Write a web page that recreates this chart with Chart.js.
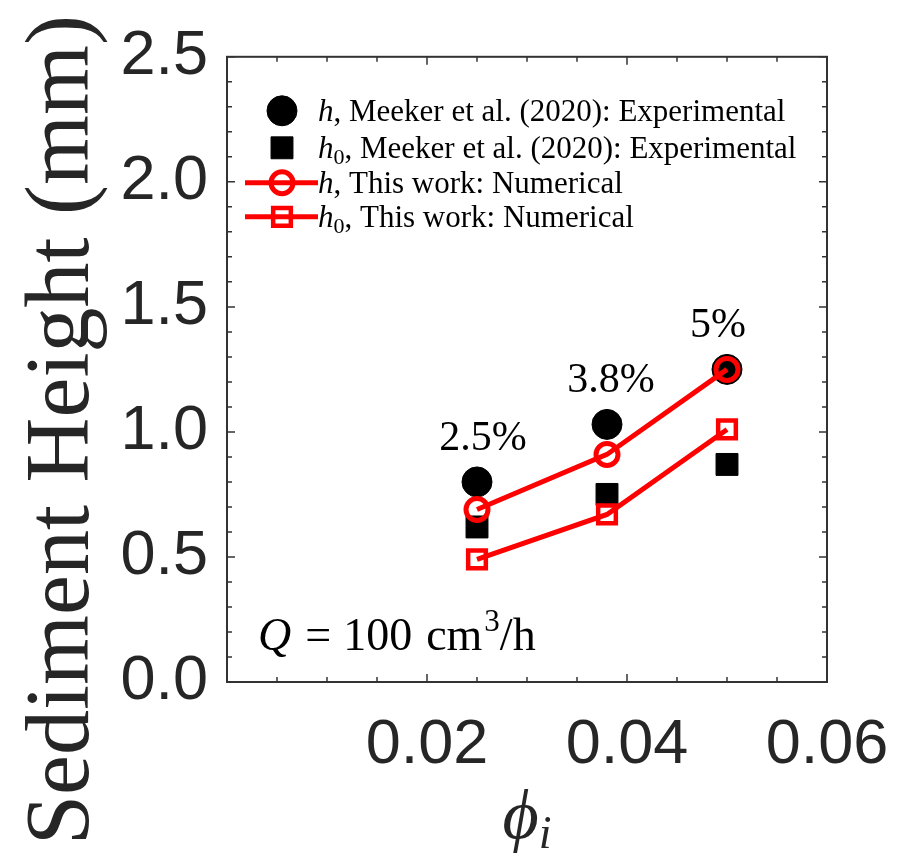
<!DOCTYPE html>
<html><head><meta charset="utf-8">
<script src="https://cdn.jsdelivr.net/npm/chart.js@4/dist/chart.umd.min.js"></script>
<style>html,body{margin:0;padding:0;background:#fff;}#wrap{width:916px;height:862px;position:relative;}</style>
</head><body><div id="wrap"><canvas id="c" width="916" height="862"></canvas></div>
<script>
// ---- data ----
const phi = [0.025, 0.038, 0.05];
const hExp = [0.80, 1.03, 1.25];
const h0Exp = [0.62, 0.75, 0.87];
const hNum = [0.69, 0.91, 1.25];
const h0Num = [0.49, 0.67, 1.01];
const pctLabels = ['2.5%', '3.8%', '5%'];
const xTicks = [0.02, 0.04, 0.06];
const yTicks = [0.0, 0.5, 1.0, 1.5, 2.0, 2.5];
const legendSym = ['h', 'h', 'h', 'h'];
const legendSub = ['', '0', '', '0'];
const legendText = [', Meeker et al. (2020): Experimental', ', Meeker et al. (2020): Experimental', ', This work: Numerical', ', This work: Numerical'];
const yTitle = 'Sediment Height (mm)';
const xTitleSym = 'ϕ';
const xTitleSub = 'i';
const flowParts = ['Q', '=', '100', 'cm', '3', '/h'];

const pts = ys => phi.map((x, i) => ({x: x, y: ys[i]}));
const SERIF = '"Liberation Serif", "Times New Roman", serif';
const SANS = '"Liberation Sans", Arial, Helvetica, sans-serif';
const AX = '#333333';

const datasets = [
  {label: 'hExp', data: pts(hExp), showLine: false, pointStyle: 'circle', pointRadius: 15, pointHoverRadius: 15,
   pointBackgroundColor: '#000', pointBorderColor: '#000', pointBorderWidth: 1, order: 2},
  {label: 'h0Exp', data: pts(h0Exp), showLine: false, pointStyle: 'rect', pointRadius: 15.5, pointHoverRadius: 15.5,
   pointBackgroundColor: '#000', pointBorderColor: '#000', pointBorderWidth: 1, order: 2},
  {label: 'hNum', data: pts(hNum), showLine: true, borderColor: '#ff0000', borderWidth: 5, pointStyle: 'circle',
   pointRadius: 11, pointHoverRadius: 11, pointBackgroundColor: 'rgba(0,0,0,0)', pointBorderColor: '#ff0000', pointBorderWidth: 5, order: 1},
  {label: 'h0Num', data: pts(h0Num), showLine: true, borderColor: '#ff0000', borderWidth: 5, pointStyle: 'rect',
   pointRadius: 12.5, pointHoverRadius: 12.5, pointBackgroundColor: 'rgba(0,0,0,0)', pointBorderColor: '#ff0000', pointBorderWidth: 4.5, order: 1}
];

function drawMarker(ctx, ds, x, y) {
  Chart.helpers.drawPoint(ctx, {pointStyle: ds.pointStyle, rotation: 0, radius: ds.pointRadius, borderWidth: ds.pointBorderWidth}, x, y);
}

const decor = {
  id: 'decor',
  afterDraw(chart) {
    const ctx = chart.ctx, a = chart.chartArea, xs = chart.scales.x, ys = chart.scales.y;
    ctx.save();
    // box
    ctx.strokeStyle = AX; ctx.lineWidth = 2;
    ctx.strokeRect(a.left, a.top, a.right - a.left, a.bottom - a.top);
    // inward ticks
    ctx.lineWidth = 1.5;
    ctx.beginPath();
    for (let k = 0; k <= 12; k++) {
      const v = k * 0.005, px = xs.getPixelForValue(v), L = (k % 4 === 0) ? 8 : 5;
      ctx.moveTo(px, a.bottom); ctx.lineTo(px, a.bottom - L);
      ctx.moveTo(px, a.top); ctx.lineTo(px, a.top + L);
    }
    for (let k = 0; k <= 25; k++) {
      const v = k * 0.1, py = ys.getPixelForValue(v), L = (k % 5 === 0) ? 8 : 5;
      ctx.moveTo(a.left, py); ctx.lineTo(a.left + L, py);
      ctx.moveTo(a.right, py); ctx.lineTo(a.right - L, py);
    }
    ctx.stroke();

    // y title
    ctx.fillStyle = '#262626';
    ctx.save();
    ctx.translate(88, 430); ctx.rotate(-Math.PI / 2);
    ctx.font = '90px ' + SERIF; ctx.textAlign = 'center'; ctx.textBaseline = 'alphabetic';
    ctx.fillText(yTitle, 0, 0);
    ctx.restore();

    // x title
    ctx.textAlign = 'left'; ctx.textBaseline = 'alphabetic';
    ctx.font = 'italic 70px ' + SERIF;
    const wPhi = ctx.measureText(xTitleSym).width;
    ctx.font = 'italic 46px ' + SERIF;
    const wSub = ctx.measureText(xTitleSub).width;
    const cx = (a.left + a.right) / 2, x0 = cx - (wPhi + wSub) / 2;
    ctx.font = 'italic 70px ' + SERIF;
    ctx.fillText(xTitleSym, x0, 838);
    ctx.font = 'italic 46px ' + SERIF;
    ctx.fillText(xTitleSub, x0 + wPhi, 848);

    // percent labels
    ctx.fillStyle = '#000';
    ctx.font = '42px ' + SERIF; ctx.textAlign = 'center'; ctx.textBaseline = 'middle';
    const offs = [6, 4, -9];
    pctLabels.forEach((t, i) => {
      ctx.fillText(t, xs.getPixelForValue(phi[i]) + offs[i], ys.getPixelForValue(hExp[i]) - 43);
    });

    // flow rate text
    ctx.textAlign = 'left'; ctx.textBaseline = 'alphabetic';
    let fx = a.left + 31; const fy = a.bottom - 32;
    const big = '46px ' + SERIF;
    ctx.font = 'italic ' + big; ctx.fillText(flowParts[0], fx, fy); fx += ctx.measureText(flowParts[0]).width + 14;
    ctx.font = big; ctx.fillText(flowParts[1], fx, fy); fx += ctx.measureText(flowParts[1]).width + 12;
    ctx.fillText(flowParts[2], fx, fy); fx += ctx.measureText(flowParts[2]).width + 14;
    ctx.fillText(flowParts[3], fx, fy); fx += ctx.measureText(flowParts[3]).width + 2;
    ctx.font = '31px ' + SERIF; ctx.fillText(flowParts[4], fx, fy - 19); fx += ctx.measureText(flowParts[4]).width;
    ctx.font = big; ctx.fillText(flowParts[5], fx, fy);

    // legend
    const rows = [a.top + 54, a.top + 91, a.top + 126, a.top + 160];
    const mx = a.left + 55, tx = a.left + 91;
    rows.forEach((ry, i) => {
      const ds = datasets[i];
      if (ds.showLine) {
        ctx.strokeStyle = ds.borderColor; ctx.lineWidth = ds.borderWidth;
        ctx.beginPath(); ctx.moveTo(a.left + 18, ry); ctx.lineTo(tx, ry); ctx.stroke();
      }
      ctx.fillStyle = ds.pointBackgroundColor; ctx.strokeStyle = ds.pointBorderColor; ctx.lineWidth = ds.pointBorderWidth;
      drawMarker(ctx, ds, mx, ry);
      ctx.fillStyle = '#000';
      let lx = tx; const by = ry + 10;
      ctx.font = 'italic 31px ' + SERIF; ctx.fillText(legendSym[i], lx, by); lx += ctx.measureText(legendSym[i]).width;
      if (legendSub[i]) {
        ctx.font = '22px ' + SERIF; ctx.fillText(legendSub[i], lx, by + 6); lx += ctx.measureText(legendSub[i]).width;
      }
      ctx.font = '31px ' + SERIF; ctx.fillText(legendText[i], lx, by);
    });
    ctx.restore();
  }
};

new Chart(document.getElementById('c'), {
  type: 'scatter',
  data: {datasets: datasets},
  options: {
    responsive: false, animation: false, devicePixelRatio: 1,
    layout: {padding: {top: 50, right: 89, left: 0, bottom: 0}},
    plugins: {legend: {display: false}, tooltip: {enabled: false}},
    scales: {
      x: {
        type: 'linear', min: 0, max: 0.06,
        afterBuildTicks: s => { s.ticks = xTicks.map(v => ({value: v})); },
        afterFit: s => { s.height = 180; },
        grid: {display: false, drawTicks: false}, border: {display: false},
        ticks: {padding: 26, color: '#262626', font: {family: SANS, size: 63}, maxRotation: 0, autoSkip: false,
                callback: v => v.toFixed(2)}
      },
      y: {
        type: 'linear', min: 0, max: 2.5,
        afterBuildTicks: s => { s.ticks = yTicks.map(v => ({value: v})); },
        afterFit: s => { s.width = 227; },
        grid: {display: false, drawTicks: false}, border: {display: false},
        ticks: {padding: 19, color: '#262626', font: {family: SANS, size: 63}, autoSkip: false,
                callback: v => v.toFixed(1)}
      }
    }
  },
  plugins: [decor]
});
</script></body></html>
